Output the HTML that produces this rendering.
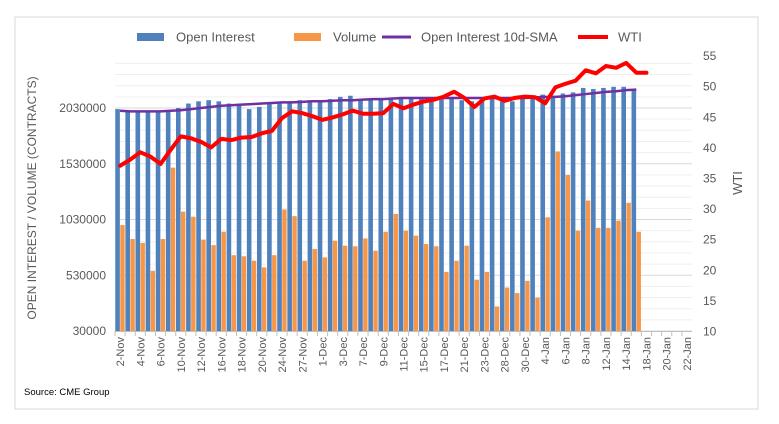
<!DOCTYPE html>
<html><head><meta charset="utf-8"><style>
html,body{margin:0;padding:0;background:#fff;width:779px;height:424px;overflow:hidden}
svg{display:block;font-family:"Liberation Sans",sans-serif}
</style></head><body>
<svg id="chart" width="779" height="424">
<rect x="15" y="17" width="743" height="392" fill="#fff" stroke="#d9d9d9"/>
<g id="legend">
 <g><rect x="137" y="33" width="27" height="8" fill="#4f81bd"/><text x="176" y="41.5" font-size="13" fill="#595959">Open Interest</text></g>
 <g><rect x="294" y="33" width="27" height="8" fill="#f79646"/><text x="333" y="41.5" font-size="13" fill="#595959">Volume</text></g>
 <g><line x1="382" y1="37" x2="411" y2="37" stroke="#7030a0" stroke-width="3"/><text x="421" y="41.5" font-size="13" fill="#595959">Open Interest 10d-SMA</text></g>
 <g><line x1="578" y1="37" x2="608" y2="37" stroke="#ff0000" stroke-width="4"/><text x="618" y="41.5" font-size="13" fill="#595959">WTI</text></g>
</g>
<g id="grid"></g><g id="bars"></g><g id="lines"></g><g id="axes"></g>
<text x="36" y="198" font-size="12" fill="#595959" text-anchor="middle" transform="rotate(-90 36 198)">OPEN INTEREST / VOLUME (CONTRACTS)</text>
<text x="742" y="183" font-size="13" fill="#595959" text-anchor="middle" transform="rotate(-90 742 183)">WTI</text>
<text x="24" y="395" font-size="9.5" fill="#000">Source: CME Group</text>
</svg>
<script>
const categories=["2-Nov","3-Nov","4-Nov","5-Nov","6-Nov","9-Nov","10-Nov","11-Nov","12-Nov","13-Nov","16-Nov","17-Nov","18-Nov","19-Nov","20-Nov","23-Nov","24-Nov","25-Nov","27-Nov","30-Nov","1-Dec","2-Dec","3-Dec","4-Dec","7-Dec","8-Dec","9-Dec","10-Dec","11-Dec","14-Dec","15-Dec","16-Dec","17-Dec","18-Dec","21-Dec","22-Dec","23-Dec","24-Dec","28-Dec","29-Dec","30-Dec","31-Dec","4-Jan","5-Jan","6-Jan","7-Jan","8-Jan","11-Jan","12-Jan","13-Jan","14-Jan","15-Jan","18-Jan","19-Jan","20-Jan","21-Jan","22-Jan"];
const openInterest=[2.02,2.0,2.0,2.0,2.0,2.01,2.03,2.07,2.09,2.10,2.09,2.07,2.07,2.02,2.04,2.07,2.07,2.09,2.10,2.10,2.10,2.11,2.13,2.14,2.10,2.11,2.11,2.11,2.13,2.12,2.12,2.10,2.11,2.13,2.10,2.09,2.11,2.12,2.09,2.09,2.12,2.13,2.15,2.14,2.16,2.17,2.21,2.20,2.21,2.22,2.22,2.20];
const volume=[0.98,0.855,0.82,0.57,0.855,1.495,1.10,1.055,0.85,0.80,0.92,0.71,0.70,0.66,0.60,0.71,1.12,1.06,0.66,0.765,0.69,0.84,0.795,0.79,0.86,0.75,0.92,1.08,0.93,0.885,0.81,0.79,0.56,0.66,0.795,0.49,0.56,0.25,0.42,0.37,0.48,0.33,1.05,1.64,1.43,0.93,1.20,0.955,0.955,1.02,1.18,0.92];
const oiSma=[2.005,2.0,2.0,2.0,2.0,2.005,2.01,2.02,2.03,2.04,2.05,2.055,2.06,2.065,2.07,2.075,2.08,2.08,2.085,2.09,2.09,2.095,2.10,2.10,2.105,2.11,2.11,2.115,2.12,2.12,2.12,2.12,2.12,2.12,2.12,2.12,2.12,2.12,2.12,2.12,2.12,2.125,2.13,2.13,2.135,2.145,2.155,2.165,2.175,2.18,2.19,2.195];
const wti=[37.0,38.0,39.2,38.5,37.3,39.6,41.8,41.5,40.9,40.0,41.4,41.2,41.6,41.7,42.3,42.7,44.8,45.9,45.6,45.1,44.5,44.9,45.4,46.0,45.5,45.5,45.6,47.1,46.4,47.0,47.5,47.8,48.3,49.1,48.1,46.6,48.0,48.3,47.6,48.1,48.3,48.2,47.2,49.8,50.4,50.9,52.6,52.1,53.3,53.0,53.8,52.2,52.2];
const leftTicks=[30000,530000,1030000,1530000,2030000];
const rightTicks=[10,15,20,25,30,35,40,45,50,55];

const NS="http://www.w3.org/2000/svg";
const X0=115,X1=692,Y0=331;
const step=(X1-X0)/categories.length;
const xc=i=>X0+step*(i+0.5);
const yL=m=>Y0-(m*1e6-30000)/500000*55.75;
const yR=v=>Y0-(v-10)*30.6/5;
function mk(tag,attrs,parent){const e=document.createElementNS(NS,tag);for(const k in attrs)e.setAttribute(k,attrs[k]);parent.appendChild(e);return e;}
const grid=document.getElementById('grid'),bars=document.getElementById('bars'),lines=document.getElementById('lines'),axes=document.getElementById('axes');
for(let k=0;k<=24;k++){const y=Y0-k*11.15;
 const g=mk('line',{x1:X0,x2:X1,y1:y,y2:y,stroke:k%5==0?'#d9d9d9':'#efefef','stroke-width':1},grid);
 
 }
leftTicks.forEach(t=>{const e=mk('text',{x:106,y:yL(t/1e6)+4,'font-size':12,fill:'#595959','text-anchor':'end'},axes);e.textContent=t;
 
 });
rightTicks.forEach(t=>{const e=mk('text',{x:703,y:yR(t)+4.5,'font-size':12,fill:'#595959'},axes);e.textContent=t;
 
 });
const ax=mk('line',{x1:X0,x2:X1,y1:Y0+0.5,y2:Y0+0.5,stroke:'#bfbfbf'},axes);


categories.forEach((c,i)=>{
 const tk=mk('line',{x1:X0+step*i,x2:X0+step*i,y1:Y0,y2:Y0+5,stroke:'#bfbfbf'},axes);
 
 
 if(i%2==0){const x=xc(i)+4,y=Y0+6;const t=mk('text',{x:x,y:y,'font-size':11,fill:'#595959','text-anchor':'end',transform:`rotate(-90 ${x} ${y})`},axes);t.textContent=c;
  
  }
});
openInterest.forEach((v,i)=>{const y=yL(v);const r=mk('rect',{x:xc(i)-4.8,y:y,width:4.6,height:Y0-y,fill:'#4f81bd'},bars);
 
 });
volume.forEach((v,i)=>{const y=yL(v);const r=mk('rect',{x:xc(i)+0.2,y:y,width:4.4,height:Y0-y,fill:'#f79646'},bars);
 
 });
const sma=mk('polyline',{points:oiSma.map((v,i)=>xc(i)+','+yL(v)).join(' '),fill:'none',stroke:'#7030a0','stroke-width':2.5,'stroke-linejoin':'round'},lines);


const w=mk('polyline',{points:wti.map((v,i)=>xc(i)+','+yR(v)).join(' '),fill:'none',stroke:'#ff0000','stroke-width':4,'stroke-linejoin':'round','stroke-linecap':'round'},lines);


</script>
</body></html>
